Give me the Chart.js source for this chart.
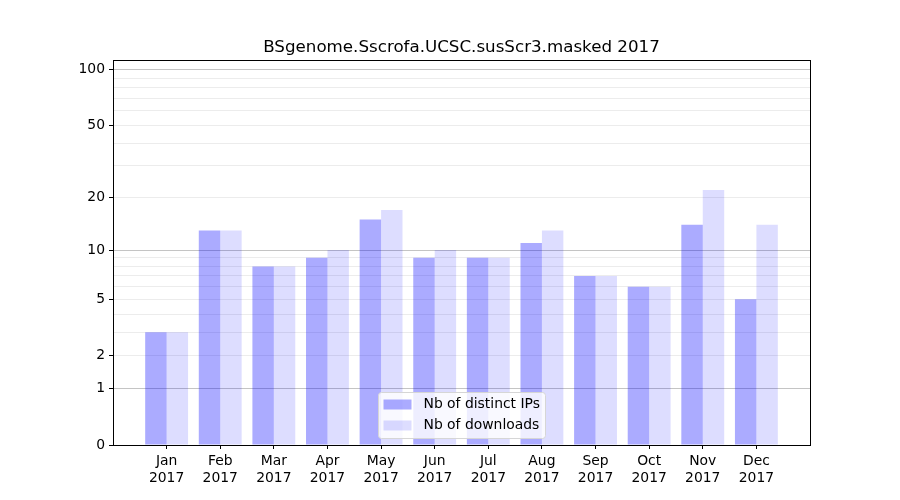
<!DOCTYPE html>
<html>
<head>
<meta charset="utf-8">
<script src="https://cdn.jsdelivr.net/npm/chart.js"></script>
<style>
  html, body { margin: 0; padding: 0; background: #fff; }
  #wrap { width: 900px; height: 500px; }
</style>
</head>
<body>
<div id="wrap"><canvas id="myChart" width="900" height="500"></canvas></div>
<script>
const title = 'BSgenome.Sscrofa.UCSC.susScr3.masked 2017'
const months = ['Jan', 'Feb', 'Mar', 'Apr', 'May', 'Jun', 'Jul', 'Aug', 'Sep', 'Oct', 'Nov', 'Dec']
const year = '2017'
const ipCounts = [3, 13, 8, 9, 15, 9, 9, 11, 7, 6, 14, 5]
const downloadCounts = [3, 13, 8, 10, 17, 10, 9, 13, 7, 6, 22, 14]
const seriesNames = ['Nb of distinct IPs', 'Nb of downloads']
const yMajorTicks = [0, 1, 2, 5, 10, 20, 50, 100]
const yGridLines = [1, 2, 3, 4, 5, 6, 7, 8, 9, 10, 20, 30, 40, 50, 60, 70, 80, 90, 100]
const yDarkLines = [1, 10, 100]
const yMaxValue = 113

// y axis is log10(1 + n)
const tr = v => Math.log10(1 + v)
const FONT = 'DejaVu Sans'
const colors = ['rgba(0,0,255,0.33)', 'rgba(0,0,255,0.135)']

const yTickVals = Array.from(new Set([0].concat(yGridLines))).sort((a, b) => a - b)

const frame = {
  id: 'frame',
  afterDraw(chart) {
    const { ctx, chartArea: a } = chart
    ctx.save()
    // spines
    ctx.strokeStyle = '#000'
    ctx.lineWidth = 1
    ctx.strokeRect(Math.round(a.left) + 0.5, Math.round(a.top) + 0.5, Math.round(a.right - a.left), Math.round(a.bottom - a.top))
    // title
    ctx.fillStyle = '#000'
    ctx.font = `16.7px "${FONT}"`
    ctx.textAlign = 'center'
    ctx.textBaseline = 'alphabetic'
    ctx.fillText(title, (a.left + a.right) / 2, a.top - 8)
    // legend
    const w = 167, h = 46
    const lx = Math.round((a.left + a.right) / 2 - w / 2) + 0.5
    const ly = Math.round(a.bottom - 7 - h) + 0.5
    ctx.beginPath()
    ctx.roundRect(lx, ly, w, h, 3)
    ctx.fillStyle = 'rgba(255,255,255,0.8)'
    ctx.fill()
    ctx.strokeStyle = '#d6d6d6'
    ctx.stroke()
    ctx.font = `13.9px "${FONT}"`
    ctx.textAlign = 'left'
    ctx.textBaseline = 'middle'
    seriesNames.forEach((name, i) => {
      const cy = ly + 12 + i * 21
      ctx.fillStyle = colors[i]
      ctx.fillRect(lx + 5, cy - 5, 28, 10)
      ctx.fillStyle = '#000'
      ctx.fillText(name, lx + 45, cy)
    })
    ctx.restore()
  }
}

const config = {
  type: 'bar',
  data: {
    datasets: [
      { label: seriesNames[0], data: ipCounts.map((v, i) => ({ x: i, y: tr(v) })), backgroundColor: colors[0], borderWidth: 0 },
      { label: seriesNames[1], data: downloadCounts.map((v, i) => ({ x: i, y: tr(v) })), backgroundColor: colors[1], borderWidth: 0 }
    ]
  },
  options: {
    responsive: false,
    animation: false,
    layout: { padding: { top: 60, right: 90, left: 0, bottom: 0 } },
    datasets: { bar: { categoryPercentage: 0.8, barPercentage: 1.0 } },
    plugins: { legend: { display: false }, tooltip: { enabled: false }, title: { display: false } },
    scales: {
      x: {
        type: 'linear',
        min: -1,
        max: 12,
        offset: false,
        afterBuildTicks: s => { s.ticks = months.map((m, i) => ({ value: i })) },
        afterFit: s => { s.height = 55 },
        ticks: {
          autoSkip: false,
          maxRotation: 0,
          padding: 4,
          color: '#000',
          font: { family: FONT, size: 13.9 },
          callback: (v) => [months[v], year]
        },
        grid: { offset: false, drawOnChartArea: false, drawTicks: true, tickLength: 4, color: '#000' },
        border: { display: true, color: '#000' }
      },
      y: {
        type: 'linear',
        min: 0,
        max: tr(yMaxValue),
        afterBuildTicks: s => { s.ticks = yTickVals.map(v => ({ value: tr(v) })) },
        afterFit: s => { s.width = 113 },
        ticks: {
          autoSkip: false,
          padding: 4,
          color: '#000',
          font: { family: FONT, size: 13.9 },
          callback: (v, i) => yMajorTicks.includes(yTickVals[i]) ? String(yTickVals[i]) : ''
        },
        grid: {
          drawTicks: true,
          tickLength: 4,
          color: c => {
            const n = yTickVals[c.index]
            if (n === 0) return 'rgba(0,0,0,0)'
            return yDarkLines.includes(n) ? '#c4c4c4' : '#ececec'
          },
          tickColor: c => yMajorTicks.includes(yTickVals[c.index]) ? '#000' : 'rgba(0,0,0,0)'
        },
        border: { display: true, color: '#000' }
      }
    }
  },
  plugins: [frame]
}

const ctx = document.getElementById('myChart').getContext('2d')
const myChart = new Chart(ctx, config)
</script>
</body>
</html>
